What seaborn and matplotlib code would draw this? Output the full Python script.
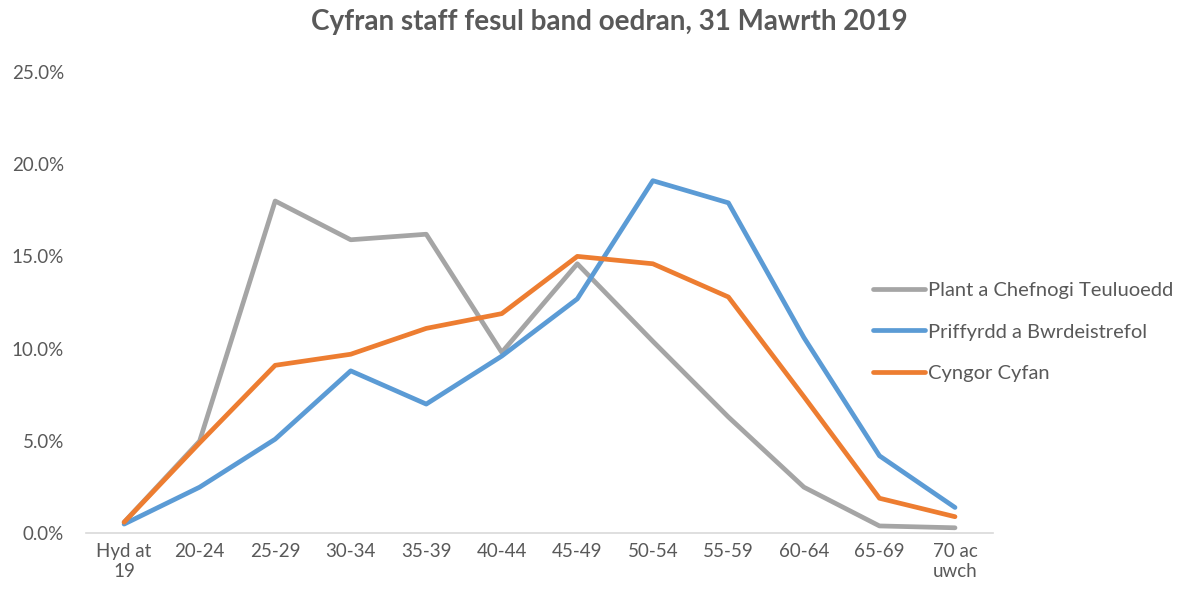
"""Cyfran staff fesul band oedran, 31 Mawrth 2019 - line chart."""

import matplotlib
matplotlib.use("Agg")
import matplotlib.pyplot as plt
from matplotlib.ticker import PercentFormatter
import seaborn as sns
import pandas as pd

# Age bands (x axis)
age_bands = ["Hyd at\n19", "20-24", "25-29", "30-34", "35-39", "40-44",
             "45-49", "50-54", "55-59", "60-64", "65-69", "70 ac\nuwch"]

# Share of staff per band (fractions)
plant = [0.006, 0.050, 0.180, 0.159, 0.162, 0.098, 0.146, 0.104, 0.063, 0.025, 0.004, 0.003]
priffyrdd = [0.005, 0.025, 0.051, 0.088, 0.070, 0.096, 0.127, 0.191, 0.179, 0.106, 0.042, 0.014]
cyngor = [0.006, 0.049, 0.091, 0.097, 0.111, 0.119, 0.150, 0.146, 0.128, 0.074, 0.019, 0.009]

series_names = ["Plant a Chefnogi Teuluoedd", "Priffyrdd a Bwrdeistrefol", "Cyngor Cyfan"]
colours = ["#A5A5A5", "#5B9BD5", "#ED7D31"]

# long format for seaborn
df = pd.DataFrame({
    "band": age_bands * 3,
    "share": plant + priffyrdd + cyngor,
    "series": [s for s in series_names for _ in age_bands],
})

sns.set_style("white")
plt.rcParams["font.family"] = ["Lato", "DejaVu Sans"]
text_col = "#595959"

fig = plt.figure(figsize=(11.99, 6.01), dpi=100)
ax = fig.add_axes([0.072, 0.1126, 0.756, 0.768])

sns.lineplot(data=df, x="band", y="share", hue="series", hue_order=series_names,
             palette=colours, linewidth=3.4, sort=False, ax=ax)

ax.set_ylim(0, 0.25)
ax.set_xlim(-0.5, len(age_bands) - 0.5)
ax.set_yticks([0, 0.05, 0.10, 0.15, 0.20, 0.25])
ax.yaxis.set_major_formatter(PercentFormatter(1.0, decimals=1))
ax.set_xlabel("")
ax.set_ylabel("")
ax.tick_params(axis="both", length=0, labelsize=13.5, colors=text_col)
ax.tick_params(axis="y", pad=16)
ax.tick_params(axis="x", pad=7)

for side in ["top", "right", "left"]:
    ax.spines[side].set_visible(False)
ax.spines["bottom"].set_color("#D9D9D9")
ax.spines["bottom"].set_linewidth(1.2)

leg = ax.legend(loc="center left", bbox_to_anchor=(0.728, 0.4476),
                bbox_transform=fig.transFigure, frameon=False, borderpad=0,
                borderaxespad=0, fontsize=14.5, handlelength=2.6,
                handletextpad=0.12, labelspacing=1.2)
for t in leg.get_texts():
    t.set_color(text_col)

fig.text(0.508, 0.963, "Cyfran staff fesul band oedran, 31 Mawrth 2019",
         ha="center", va="center", fontsize=20, fontweight="bold", color=text_col)

fig.savefig("out.png", dpi=100)
